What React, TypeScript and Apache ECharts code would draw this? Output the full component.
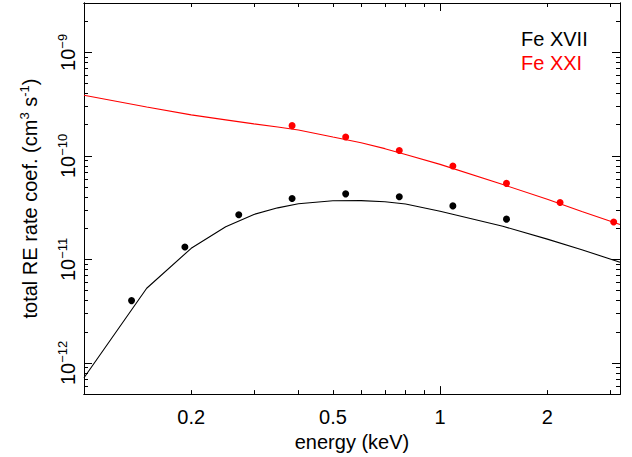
import React, { useEffect, useRef } from "react";
import * as echarts from "echarts";

// Model curves (energy in keV, coefficient in cm^3 s^-1)
const lineEnergy = [0.1, 0.15, 0.2, 0.25, 0.3, 0.35, 0.4, 0.5, 0.6, 0.7, 0.8, 1.0, 1.5, 2.0, 2.5, 3.2];
const feXVIILine = [7.2e-13, 5.27e-12, 1.28e-11, 2.07e-11, 2.72e-11, 3.15e-11, 3.45e-11, 3.69e-11, 3.70e-11, 3.61e-11, 3.43e-11, 2.92e-11, 2.09e-11, 1.57e-11, 1.24e-11, 9.4e-12];
const feXXILine = [3.86e-10, 2.97e-10, 2.49e-10, 2.23e-10, 2.04e-10, 1.9e-10, 1.78e-10, 1.52e-10, 1.34e-10, 1.175e-10, 1.03e-10, 8.28e-11, 5.29e-11, 3.81e-11, 2.9e-11, 2.17e-11];

// Measured points
const feXVIIEnergy = [0.136, 0.192, 0.272, 0.384, 0.543, 0.768, 1.086, 1.536];
const feXVIIPoints = [4.0e-12, 1.32e-11, 2.7e-11, 3.88e-11, 4.3e-11, 4.03e-11, 3.29e-11, 2.45e-11];
const feXXIEnergy = [0.384, 0.543, 0.768, 1.086, 1.536, 2.172, 3.072];
const feXXIPoints = [1.96e-10, 1.52e-10, 1.13e-10, 7.98e-11, 5.43e-11, 3.55e-11, 2.3e-11];

// Axes
const xMin = 0.1;
const xMax = 3.2;
const yMin = 5e-13;
const yMax = 3e-9;
const xLabelValues = [0.2, 0.5, 1, 2];
const xMajorTicks = [1];
const xMinorTicks = [0.2, 0.3, 0.4, 0.5, 0.6, 0.7, 0.8, 0.9, 2, 3];
const yLabelExponents = [-12, -11, -10, -9];
const yMinorMultipliers = [2, 3, 4, 5, 6, 7, 8, 9];
const yDecades = [-13, -12, -11, -10, -9];

const FONT = "'Liberation Sans', Arial, Helvetica, sans-serif";
const lg = (v: number) => Math.log10(v);

export default function App() {
  const ref = useRef<HTMLDivElement>(null);

  useEffect(() => {
    if (!ref.current) return;
    const chart = echarts.init(ref.current, null, { renderer: "svg" });

    const yMajorTicks = yLabelExponents.map((e) => e);
    const yMinorTicks: number[] = [];
    yDecades.forEach((d) =>
      yMinorMultipliers.forEach((m) => {
        const v = lg(m) + d;
        if (v >= lg(yMin) - 1e-9 && v <= lg(yMax) + 1e-9) yMinorTicks.push(v);
      })
    );

    const lineCol = "#000";
    const baseX = (position: "bottom" | "top", ticks: number[], len: number, labels: boolean, withName: boolean): any => ({
      type: "value",
      position,
      min: lg(xMin),
      max: lg(xMax),
      axisLine: { show: true, onZero: false, lineStyle: { color: lineCol, width: 1 } },
      axisTick: { show: true, inside: true, length: len, customValues: ticks.map(lg), lineStyle: { color: lineCol, width: 1 } },
      axisLabel: labels
        ? {
            show: true,
            customValues: xLabelValues.map(lg),
            margin: 13,
            fontSize: 20,
            fontFamily: FONT,
            color: "#000",
            formatter: (v: number) => String(parseFloat(Math.pow(10, v).toPrecision(3))),
          }
        : { show: false },
      splitLine: { show: false },
      ...(withName
        ? {
            name: "energy (keV)",
            nameLocation: "middle",
            nameGap: 28,
            nameTextStyle: { fontSize: 20, fontFamily: FONT, color: "#000" },
          }
        : {}),
    });

    const baseY = (position: "left" | "right", ticks: number[], len: number, labels: boolean, withName: boolean): any => ({
      type: "value",
      position,
      min: lg(yMin),
      max: lg(yMax),
      axisLine: { show: true, onZero: false, lineStyle: { color: lineCol, width: 1 } },
      axisTick: { show: true, inside: true, length: len, customValues: ticks, lineStyle: { color: lineCol, width: 1 } },
      axisLabel: labels
        ? {
            show: true,
            customValues: yLabelExponents,
            rotate: 90,
            margin: 6,
            color: "#000",
            fontFamily: FONT,
            formatter: (v: number) => `{b|10}{s|\u2212${Math.round(-v)}}`,
            rich: {
              b: { fontSize: 20, fontFamily: FONT, color: "#000", verticalAlign: "bottom", lineHeight: 20 },
              s: { fontSize: 13, fontFamily: FONT, color: "#000", verticalAlign: "bottom", lineHeight: 13, padding: [0, 0, 9, 0] },
            },
          }
        : { show: false },
      splitLine: { show: false },
      ...(withName
        ? {
            name: "{a|total RE rate coef. (cm}{s|3}{a| s}{s|-1}{a|)}",
            nameLocation: "middle",
            nameGap: 44,
            nameRotate: 90,
            nameTextStyle: {
              fontFamily: FONT,
              color: "#000",
              rich: {
                a: { fontSize: 20, fontFamily: FONT, color: "#000", verticalAlign: "bottom", lineHeight: 20 },
                s: { fontSize: 13, fontFamily: FONT, color: "#000", verticalAlign: "bottom", lineHeight: 13, padding: [0, 0, 9, 0] },
              },
            },
          }
        : {}),
    });

    const pairs = (xs: number[], ys: number[]) => xs.map((x, i) => [lg(x), lg(ys[i])]);

    chart.setOption({
      animation: false,
      backgroundColor: "#fff",
      grid: { left: 84, right: 12, top: 3, bottom: 56, containLabel: false },
      legend: {
        orient: "vertical",
        left: 516,
        top: 29,
        padding: 0,
        itemGap: 4,
        itemWidth: 0,
        itemHeight: 0,
        icon: "none",
        selectedMode: false,
        textStyle: { fontSize: 20, fontFamily: FONT },
        data: [
          { name: "Fe XVII", textStyle: { color: "#000" } },
          { name: "Fe XXI", textStyle: { color: "#ff0000" } },
        ],
      },
      xAxis: [
        baseX("bottom", xMinorTicks, 4, true, true),
        baseX("bottom", xMajorTicks, 8, false, false),
        baseX("top", xMinorTicks, 4, false, false),
        baseX("top", xMajorTicks, 8, false, false),
      ],
      yAxis: [
        baseY("left", yMinorTicks, 4, true, true),
        baseY("left", yMajorTicks, 8, false, false),
        baseY("right", yMinorTicks, 4, false, false),
        baseY("right", yMajorTicks, 8, false, false),
      ],
      series: [
        {
          name: "Fe XVII",
          type: "line",
          data: pairs(lineEnergy, feXVIILine),
          showSymbol: false,
          symbol: "none",
          lineStyle: { color: "#000", width: 1.1 },
          itemStyle: { color: "#000" },
          z: 2,
        },
        {
          name: "Fe XXI",
          type: "line",
          data: pairs(lineEnergy, feXXILine),
          showSymbol: false,
          symbol: "none",
          lineStyle: { color: "#ff0000", width: 1.1 },
          itemStyle: { color: "#ff0000" },
          z: 2,
        },
        {
          name: "Fe XVII",
          type: "scatter",
          data: pairs(feXVIIEnergy, feXVIIPoints),
          symbolSize: 7,
          itemStyle: { color: "#000", opacity: 1 },
          z: 3,
        },
        {
          name: "Fe XXI",
          type: "scatter",
          data: pairs(feXXIEnergy, feXXIPoints),
          symbolSize: 7,
          itemStyle: { color: "#ff0000", opacity: 1 },
          z: 3,
        },
      ],
    });

    return () => chart.dispose();
  }, []);

  return (
    <div
      ref={ref}
      style={{ position: "absolute", left: 0, top: 0, width: 632, height: 457, background: "#fff" }}
    />
  );
}
